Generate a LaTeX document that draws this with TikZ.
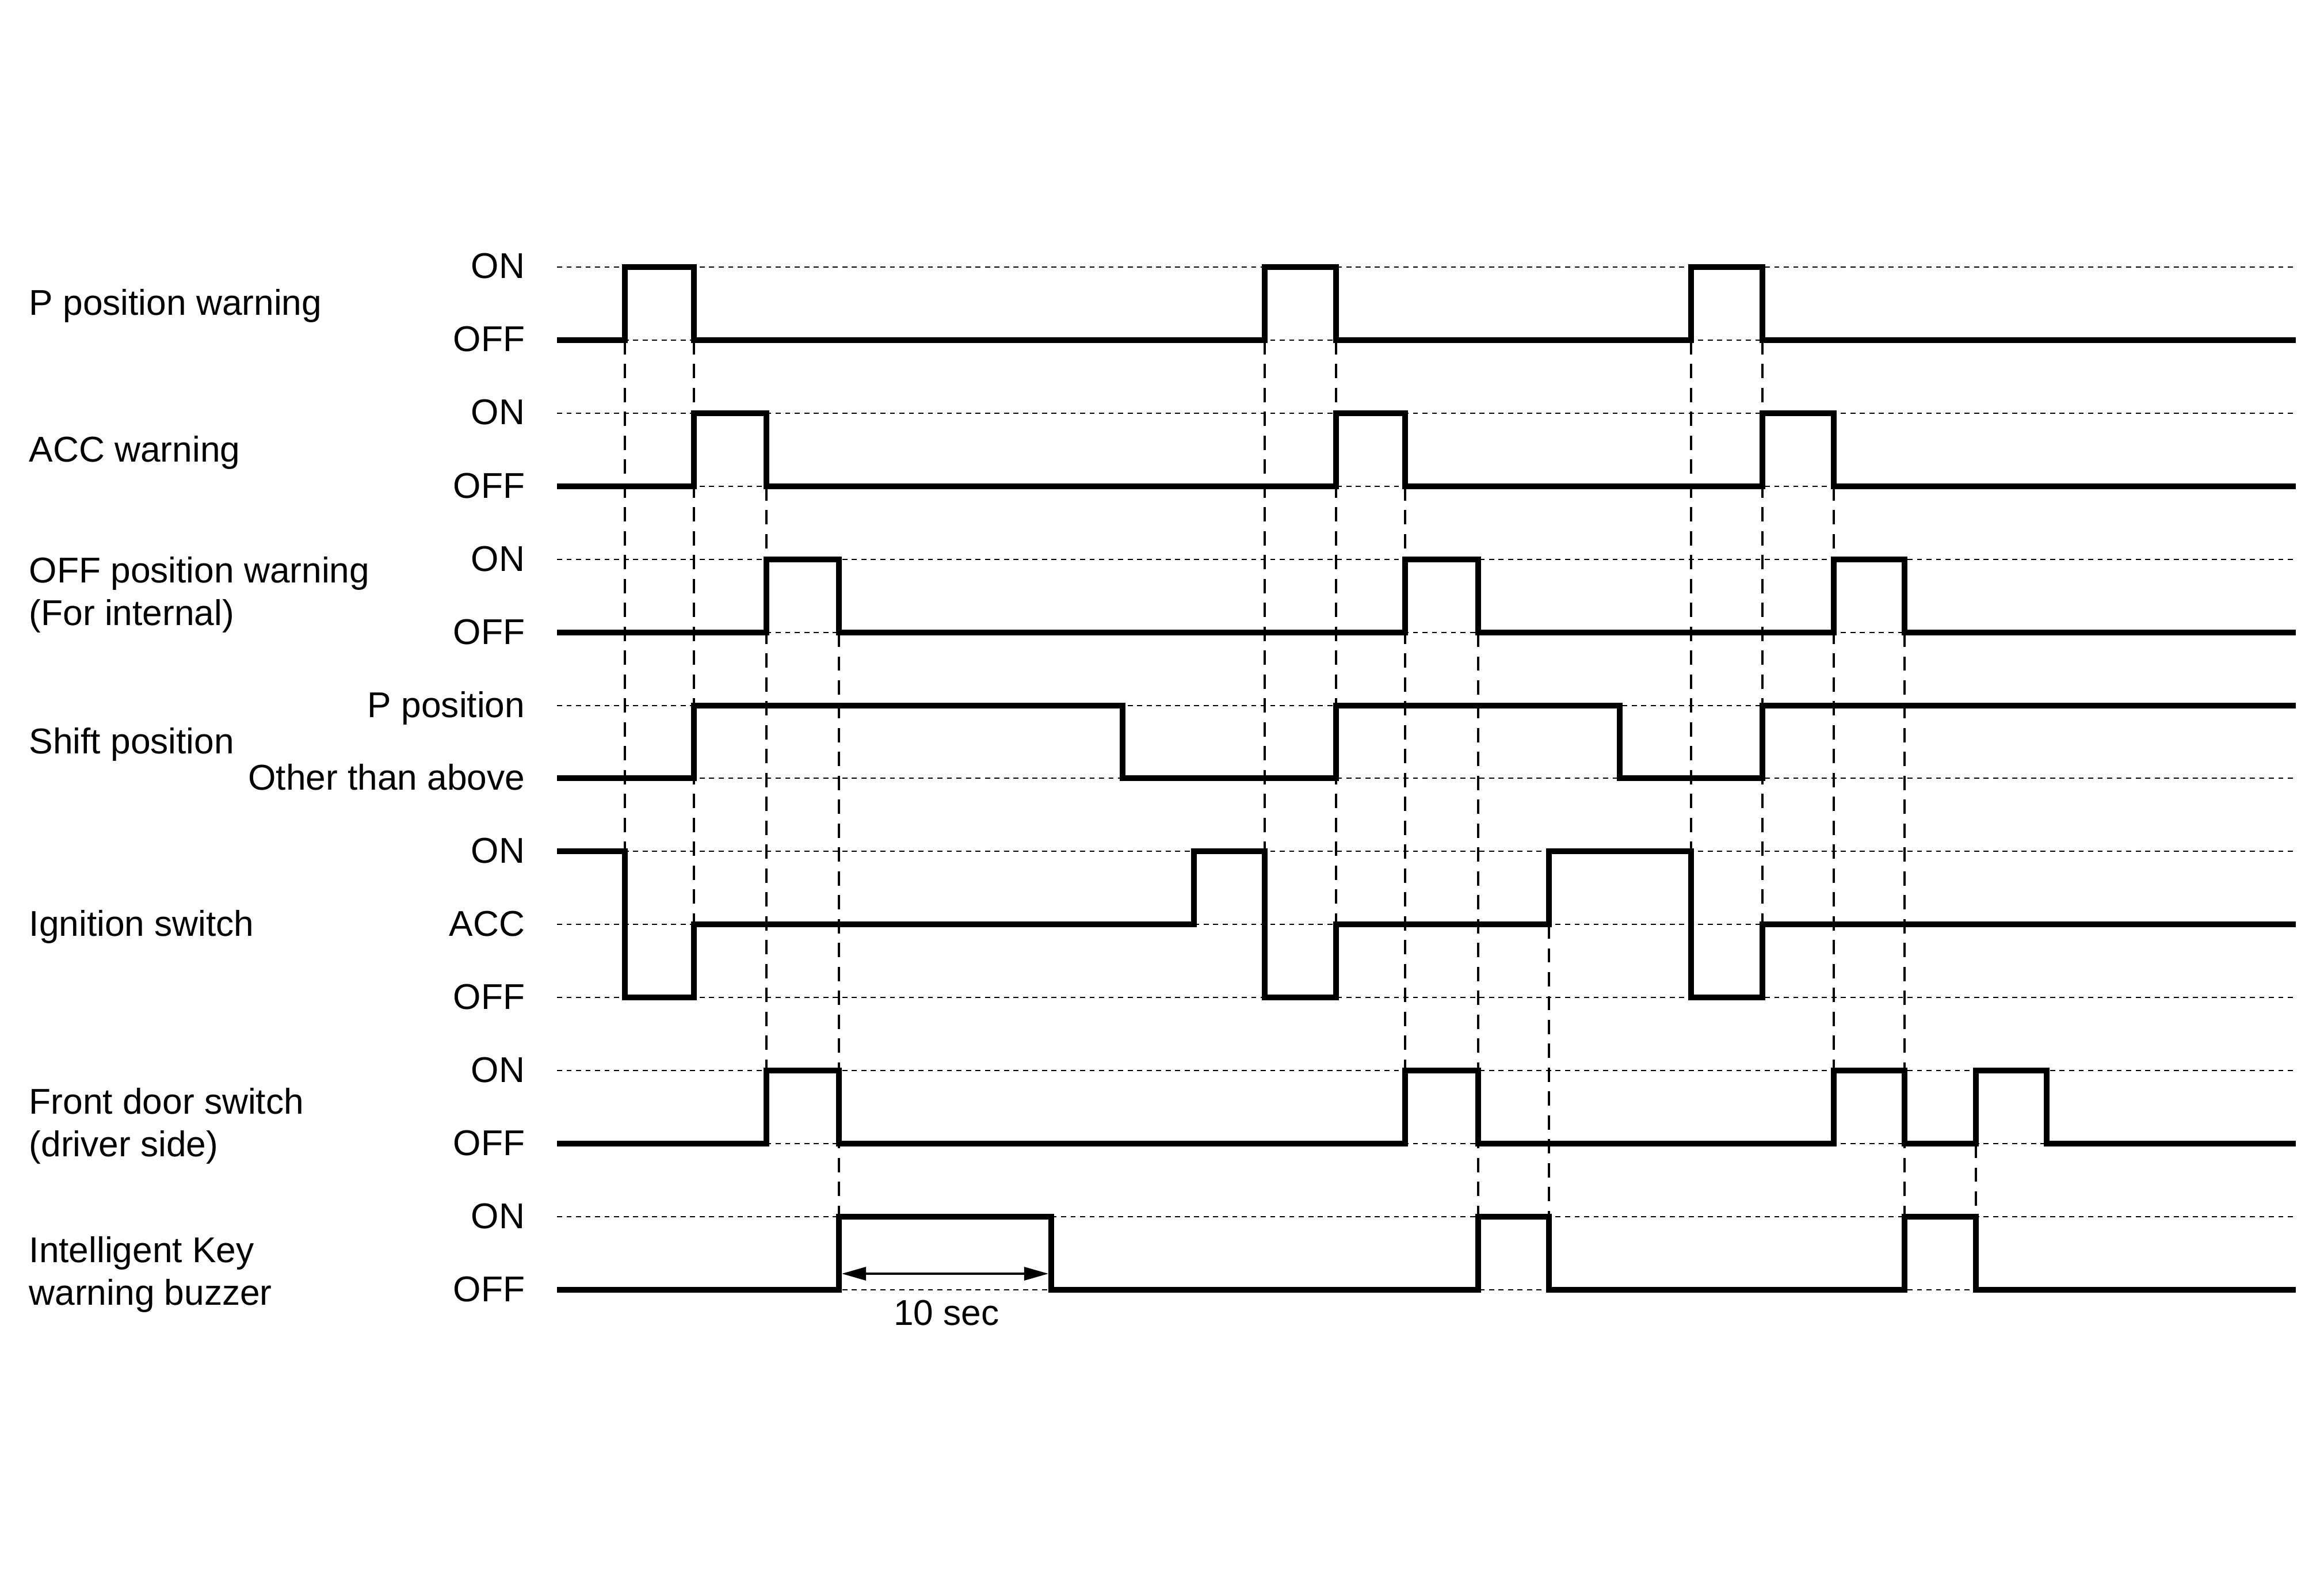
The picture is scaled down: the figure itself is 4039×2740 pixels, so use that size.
\documentclass[tikz,border=0pt]{standalone}
\usepackage{fontspec}
\setmainfont{Liberation Sans}
\usetikzlibrary{arrows.meta}
\newcommand{\sigfont}{\fontsize{17.7pt}{20.8pt}\selectfont}

\begin{document}
\begin{tikzpicture}[x=0.01cm,y=-0.01cm,
    sig/.style={line width=2.8pt,line join=miter},
    lvl/.style={line width=0.75pt,dash pattern=on 2.5pt off 2.2pt},
    guide/.style={line width=0.95pt,dash pattern=on 7.1pt off 4.7pt},
    sname/.style={anchor=base west,align=left,font=\sigfont,inner sep=0pt},
    state/.style={anchor=base east,font=\sigfont,inner sep=0pt}]
    \useasboundingbox (0,0) rectangle (4039,2740);

    % Livelli
    \foreach \y in {464,591,718,845,972,1099,1226,1352,1479,1606,1733,1860,1987,2114,2241}
        \draw[lvl] (968,\y) -- (3990,\y);

    % Nomi dei segnali
    \node[sname] (pwarn) at (50,548) {P position warning};
    \node[sname] (accwarn) at (50,803) {ACC warning};
    \node[sname] (offwarn) at (50,1086) {OFF position warning\\(For internal)};
    \node[sname] (shift) at (50,1309) {Shift position};
    \node[sname] (ign) at (50,1626) {Ignition switch};
    \node[sname] (door) at (50,2009) {Front door switch\\(driver side)};
    \node[sname] (buzz) at (50,2267) {Intelligent Key\\warning buzzer};

    % Stati
    \node[state] (pon) at (913,484) {ON};
    \node[state] (poff) at (913,611) {OFF};
    \node[state] (accon) at (913,738) {ON};
    \node[state] (accoff) at (913,865) {OFF};
    \node[state] (offon) at (913,992) {ON};
    \node[state] (offoff) at (913,1119) {OFF};
    \node[state] (shp) at (913,1246) {P position};
    \node[state] (sho) at (913,1372) {Other than above};
    \node[state] (ignon) at (913,1499) {ON};
    \node[state] (ignacc) at (913,1626) {ACC};
    \node[state] (ignoff) at (913,1753) {OFF};
    \node[state] (dooron) at (913,1880) {ON};
    \node[state] (dooroff) at (913,2007) {OFF};
    \node[state] (buzzon) at (913,2134) {ON};
    \node[state] (buzzoff) at (913,2261) {OFF};

    % Linee di riferimento
    \draw[guide] (1086,591) -- (1086,1479);
    \draw[guide] (1206,591) -- (1206,1606);
    \draw[guide] (1332,845) -- (1332,1860);
    \draw[guide] (1458,1099) -- (1458,2114);
    \draw[guide] (2198,591) -- (2198,1479);
    \draw[guide] (2322,591) -- (2322,1606);
    \draw[guide] (2442,845) -- (2442,1860);
    \draw[guide] (2569,1099) -- (2569,2114);
    \draw[guide] (2692,1606) -- (2692,2114);
    \draw[guide] (2939,591) -- (2939,1479);
    \draw[guide] (3063,591) -- (3063,1606);
    \draw[guide] (3187,845) -- (3187,1860);
    \draw[guide] (3310,1099) -- (3310,2114);
    \draw[guide] (3434,1987) -- (3434,2114);

    % P position warning
    \draw[sig] (968,591) -| (1086,464) -| (1206,591) -| (2198,464) -| (2322,591)
        -| (2939,464) -| (3063,591) -- (3990,591);
    % ACC warning
    \draw[sig] (968,845) -| (1206,718) -| (1332,845) -| (2322,718) -| (2442,845)
        -| (3063,718) -| (3187,845) -- (3990,845);
    % OFF position warning
    \draw[sig] (968,1099) -| (1332,972) -| (1458,1099) -| (2442,972) -| (2569,1099)
        -| (3187,972) -| (3310,1099) -- (3990,1099);
    % Shift position
    \draw[sig] (968,1352) -| (1206,1226) -| (1951,1352) -| (2322,1226) -| (2815,1352)
        -| (3063,1226) -- (3990,1226);
    % Ignition switch
    \draw[sig] (968,1479) -| (1086,1733) -| (1206,1606) -| (2075,1479) -| (2198,1733)
        -| (2322,1606) -| (2692,1479) -| (2939,1733) -| (3063,1606) -- (3990,1606);
    % Front door switch
    \draw[sig] (968,1987) -| (1332,1860) -| (1458,1987) -| (2442,1860) -| (2569,1987)
        -| (3187,1860) -| (3310,1987) -| (3434,1860) -| (3557,1987) -- (3990,1987);
    % Buzzer
    \draw[sig] (968,2241) -| (1458,2114) -| (1827,2241) -| (2569,2114) -| (2692,2241)
        -| (3310,2114) -| (3434,2241) -- (3990,2241);

    % 10 sec
    \coordinate (tstart) at (1463,2213);
    \coordinate (tend) at (1822,2213);
    \draw[{Triangle[length=0.42cm,width=0.23cm]}-{Triangle[length=0.42cm,width=0.23cm]},line width=0.95pt] (tstart) -- (tend);
    \node[anchor=base,font=\sigfont,inner sep=0pt] (tsec) at (1645,2302) {10 sec};
\end{tikzpicture}
\end{document}
